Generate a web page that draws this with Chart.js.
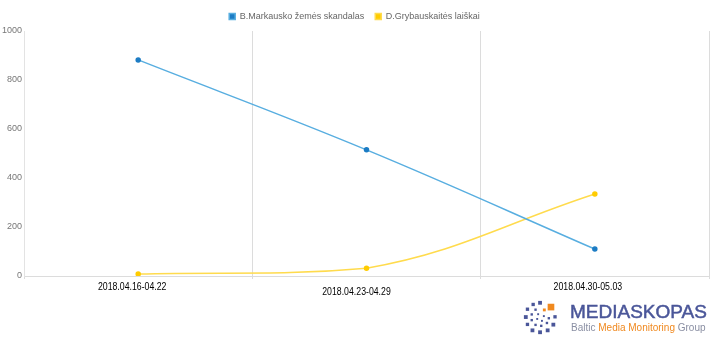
<!DOCTYPE html>
<html>
<head>
<meta charset="utf-8">
<script src="https://cdn.jsdelivr.net/npm/chart.js@4/dist/chart.umd.min.js"></script>
<style>
  html, body { margin: 0; padding: 0; background: #fff; }
  #wrap { position: relative; width: 720px; height: 338px; }
  #chart-box { position: absolute; left: 0; top: 0; width: 720px; height: 338px; }
  #logo { position: absolute; left: 520px; top: 298px; width: 200px; height: 40px; }
  #logo svg { position: absolute; left: 2px; top: 1px; }
  #logo .name { position: absolute; left: 50px; top: 4px; font: 19px/19px "Liberation Sans", sans-serif; color: #4a5699; -webkit-text-stroke: 0.5px #4a5699; white-space: nowrap; }
  #logo .sub { position: absolute; left: 51px; top: 24px; font: 10px/12px "Liberation Sans", sans-serif; color: #8a8fa3; white-space: nowrap; }
  #logo .sub span { color: #f0891f; }
</style>
</head>
<body>
<div id="wrap">
  <div id="chart-box"><canvas id="myChart"></canvas></div>
  <div id="logo">
    <svg width="38" height="38" viewBox="0 0 40 40">
      <g fill="#4a5699">
        <rect x="17" y="2" width="4" height="4"/>
        <rect x="10" y="4" width="3.5" height="3.5"/>
        <rect x="4" y="9" width="3.5" height="3.5"/>
        <rect x="2" y="17" width="4" height="4"/>
        <rect x="4" y="25" width="3.5" height="3.5"/>
        <rect x="9" y="31" width="4" height="4"/>
        <rect x="17" y="33" width="4" height="4"/>
        <rect x="25" y="31" width="4" height="4"/>
        <rect x="31" y="25" width="4" height="4"/>
        <rect x="33" y="17" width="3.5" height="3.5"/>
        <rect x="13" y="10" width="2.5" height="2.5"/>
        <rect x="9" y="15" width="2.5" height="2.5"/>
        <rect x="9" y="21" width="2.5" height="2.5"/>
        <rect x="13" y="26" width="2.5" height="2.5"/>
        <rect x="19" y="27" width="2.5" height="2.5"/>
        <rect x="25" y="24" width="2.5" height="2.5"/>
        <rect x="27" y="19" width="2.5" height="2.5"/>
        <rect x="16" y="15" width="2" height="2"/>
        <rect x="15" y="20" width="2" height="2"/>
        <rect x="20" y="22" width="2" height="2"/>
        <rect x="22" y="17" width="2" height="2"/>
      </g>
      <g fill="#f0891f">
        <rect x="27" y="5" width="7" height="7"/>
        <rect x="22" y="10" width="3" height="3"/>
      </g>
    </svg>
    <div class="name">MEDIASKOPAS</div>
    <div class="sub">Baltic <span>Media Monitoring</span> Group</div>
  </div>
</div>
<script>
const weeks = ['2018.04.16-04.22', '2018.04.23-04.29', '2018.04.30-05.03'];
const seriesNames = ['B.Markausko žemės skandalas', 'D.Grybauskaitės laiškai'];
const markauskas = [882, 515, 110];
const grybauskaite = [8, 32, 335];
const yTicks = [0, 200, 400, 600, 800, 1000];

// the week labels in the original sit a bit uneven, like pasted in
const weekLabelNudge = [[-6, 10.5], [-10, 16], [-7, 11]];

const weekLabels = {
    id: 'weekLabels',
    afterDraw(chart) {
        const xScale = chart.scales.x;
        const c = chart.ctx;
        c.save();
        c.fillStyle = '#000';
        c.font = '11.5px "Liberation Sans"';
        c.textAlign = 'center';
        c.textBaseline = 'middle';
        weeks.forEach((label, i) => {
            const x = xScale.getPixelForTick(i) + weekLabelNudge[i][0];
            const y = xScale.top + weekLabelNudge[i][1];
            c.save();
            c.translate(x, y);
            c.scale(0.76, 1);
            c.fillText(label, 0, 0);
            c.restore();
        });
        c.restore();
    }
};

const ctx = document.getElementById('myChart').getContext('2d');
const myChart = new Chart(ctx, {
    type: 'line',
    data: {
        labels: weeks,
        datasets: [{
            label: seriesNames[0],
            data: markauskas,
            borderColor: '#58aee0',
            backgroundColor: '#1c7cc4',
            pointBackgroundColor: '#1c7cc4',
            pointBorderColor: '#1c7cc4',
            borderWidth: 1.5,
            pointRadius: 2,
            tension: 0.4,
            fill: false
        }, {
            label: seriesNames[1],
            data: grybauskaite,
            borderColor: '#ffdb4d',
            backgroundColor: '#ffcc00',
            pointBackgroundColor: '#ffcc00',
            pointBorderColor: '#ffcc00',
            borderWidth: 1.5,
            pointRadius: 2,
            tension: 0.4,
            fill: false
        }]
    },
    options: {
        responsive: true,
        maintainAspectRatio: false,
        animation: false,
        layout: { padding: { left: 0, right: 11, top: 1, bottom: 59 } },
        plugins: {
            legend: {
                position: 'top',
                labels: {
                    boxWidth: 6,
                    boxHeight: 6,
                    padding: 11,
                    color: '#666',
                    font: { size: 9, family: 'Liberation Sans' }
                }
            },
            tooltip: { enabled: false }
        },
        scales: {
            x: {
                offset: true,
                grid: { display: true, offset: true, color: '#dcdcdc', tickLength: 3 },
                border: { color: '#dcdcdc' },
                ticks: { display: false }
            },
            y: {
                min: 0,
                max: 1000,
                afterBuildTicks: axis => { axis.ticks = yTicks.map(v => ({ value: v })); },
                grid: { display: false, drawTicks: false, tickLength: 0 },
                border: { display: true, color: '#e3e3e3' },
                ticks: {
                    color: '#777',
                    padding: 2,
                    font: { size: 9, family: 'Liberation Sans' },
                    callback: value => String(value)
                }
            }
        }
    },
    plugins: [weekLabels]
});
</script>
</body>
</html>
